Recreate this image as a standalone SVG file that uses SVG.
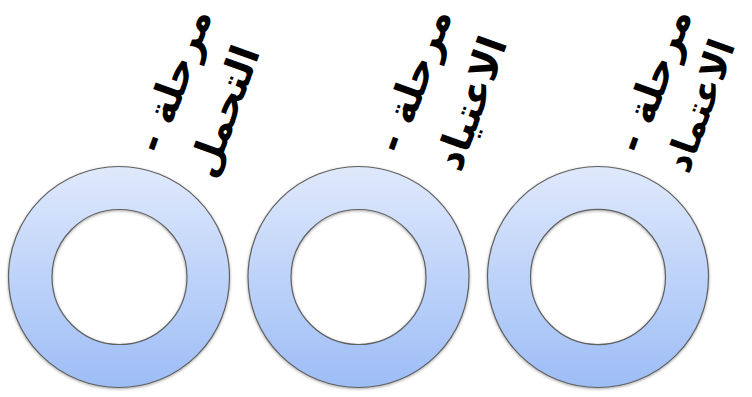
<svg xmlns="http://www.w3.org/2000/svg" width="752" height="397" viewBox="0 0 752 397">
<defs>
<linearGradient id="g" x1="0" y1="0" x2="0" y2="1">
<stop offset="0" stop-color="#dfe9fc"/>
<stop offset="1" stop-color="#9dbdf6"/>
</linearGradient>
<filter id="sh" x="-10%" y="-10%" width="120%" height="120%">
<feGaussianBlur in="SourceAlpha" stdDeviation="1.5"/>
<feOffset dx="0" dy="1" result="b"/>
<feComponentTransfer><feFuncA type="linear" slope="0.35"/></feComponentTransfer>
<feMerge><feMergeNode/><feMergeNode in="SourceGraphic"/></feMerge>
</filter>
</defs>
<style>
.ring{fill:url(#g);fill-rule:evenodd;stroke:#606060;stroke-width:1.2;filter:url(#sh)}
.lbl{font-family:"DejaVu Sans",sans-serif;font-weight:bold;font-size:40px;fill:#000;text-anchor:middle;direction:rtl;unicode-bidi:embed}
</style>
<g id="node1">
<path class="ring" d="M8.5,277a110.5,110.5 0 1,0 221,0a110.5,110.5 0 1,0 -221,0ZM52,277a67.5,67.5 0 1,0 135,0a67.5,67.5 0 1,0 -135,0Z"/>
<g transform="translate(187,85) rotate(-70)"><text class="lbl" x="0" y="0" direction="rtl">مرحلة -</text></g>
<g transform="translate(237,116) rotate(-70)"><text class="lbl" x="0" y="0" direction="rtl">التحمل</text></g>
</g>
<g id="node2">
<path class="ring" d="M248,277a110.5,110.5 0 1,0 221,0a110.5,110.5 0 1,0 -221,0ZM291,277a67.5,67.5 0 1,0 135,0a67.5,67.5 0 1,0 -135,0Z"/>
<g transform="translate(427,85) rotate(-70)"><text class="lbl" x="0" y="0" direction="rtl">مرحلة -</text></g>
<g transform="translate(484,108) rotate(-70)"><text class="lbl" x="0" y="0" direction="rtl">الاعتياد</text></g>
</g>
<g id="node3">
<path class="ring" d="M487.5,277a110.5,110.5 0 1,0 221,0a110.5,110.5 0 1,0 -221,0ZM530.5,277a67.5,67.5 0 1,0 135,0a67.5,67.5 0 1,0 -135,0Z"/>
<g transform="translate(667,85) rotate(-70)"><text class="lbl" x="0" y="0" direction="rtl">مرحلة -</text></g>
<g transform="translate(712,110) rotate(-70)"><text class="lbl" x="0" y="0" direction="rtl" style="font-size:37px">الاعتماد</text></g>
</g>
<g id="connectors"/>
</svg>
